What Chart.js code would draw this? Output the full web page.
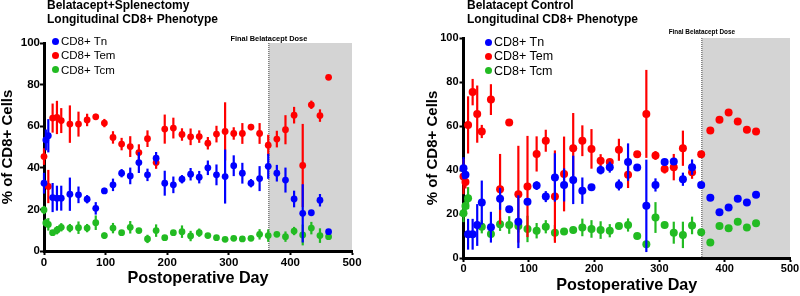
<!DOCTYPE html>
<html>
<head>
<meta charset="utf-8">
<script src="https://cdn.jsdelivr.net/npm/chart.js@4.4.1/dist/chart.umd.min.js"></script>
<style>
    body { margin: 0; background: #fff; }
    #wrap { position: relative; width: 800px; height: 296px; overflow: hidden; font-family: "Liberation Sans", Arial, sans-serif; }
    canvas { position: absolute; top: 0; }
    .title { position: absolute; font-weight: bold; font-size: 12px; line-height: 14px; white-space: nowrap; }
    .legend { position: absolute; white-space: nowrap; }
    .legend div { position: relative; }
    .legend span { position: absolute; border-radius: 50%; }
</style>
</head>
<body>
<div id="wrap">
    <canvas id="left-chart" width="400" height="296" style="left:0"></canvas>
    <canvas id="right-chart" width="400" height="296" style="left:400px"></canvas>
    <div class="title" style="left:47px; top:-2px">Belatacept+Splenectomy<br>Longitudinal CD8+ Phenotype</div>
    <div class="title" style="left:467px; top:-2px">Belatacept Control<br>Longitudinal CD8+ Phenotype</div>
    <div class="legend" id="left-legend" style="left:61px; top:34px; font-size:11.5px; line-height:14.3px"></div>
    <div class="legend" id="right-legend" style="left:494px; top:35px; font-size:12.5px; line-height:14.3px"></div>
</div>
<script>
// Series names and colours
const seriesNames = ['CD8+ Tn', 'CD8+ Tem', 'CD8+ Tcm'];
const seriesColors = ['#0000ff', '#ff0000', '#22bb22'];

// Belatacept+Splenectomy (left panel)
const splenDays = [0, 3, 7, 14, 21, 28, 42, 56, 70, 84, 98, 112, 126, 140, 154, 168, 182, 196, 210, 224,
    238, 252, 266, 280, 294, 308, 322, 336, 350, 364, 378, 392, 406, 420, 434, 448, 462];
const splenTn = [32.6, 53.4, 55.4, 25.7, 25.4, 25.4, 27.3, 27, 24.9, 20.5, 28.9, 31.8, 37.4, 36.1, 42.5, 36.6, 44.6, 32.6, 31.8, 34.5,
    36.9, 35.5, 40, 36.6, 35.8, 41, 37.4, 32.6, 34.8, 40.7, 37.4, 34.1, 25, 18.1, 18.4, 24.4, 9.3];
const splenTnErr = [5, 5, 8, 7, 6, 6, 8, 4, 2, 3, 1.5, 3, 2, 4, 5, 3, 3, 6, 4, 2,
    3, 3, 3.5, 5, 13, 5, 5, 2, 6, 6, 4, 6, 4, 14, 0, 3, 0];
const splenTem = [45.4, null, 31, 63.9, 64.2, 62.7, 61, 61, 63, 64.5, 61.5, 54.6, 51.4, 50.2, 47.3, 54, 42.5, 58.6, 59.1, 56,
    54.9, 55, 51.8, 56.2, 57.5, 56.5, 56.5, 59.6, 56.5, 50.9, 53.8, 58.3, 65.3, 41.1, 70.3, 65.1, 83.5];
const splenTemErr = [4, 0, 8, 7, 8, 6, 9, 6, 3, 1.5, 2, 3, 3, 5, 4, 4, 3, 7, 5, 3,
    4, 3, 3, 4, 14, 3, 5, 1.5, 5, 5, 4, 7, 4, 20, 2, 3, 0];
const splenTcm = [19.7, 13.5, 12.8, 8.8, 10, 11.4, 11, 11.2, 11, 13.6, 7.4, 11, 8.8, 11.4, 9.8, 5.8, 9.8, 6.4, 8.8, 9.3,
    7.2, 8.8, 7.4, 6.4, 5.6, 6.1, 5.8, 6.1, 8, 7.4, 8, 6.9, 9.6, 7.7, 11, 7.4, 6.9];
const splenTcmErr = [2, 2, 3, 1, 2, 2, 2, 3, 2, 3.5, 1.5, 2.5, 1, 3, 1, 2, 3, 1, 1, 3,
    2.5, 2, 1, 1, 0.5, 1, 1, 1, 2.5, 3, 1, 2.5, 2, 5, 3, 3.5, 1];

// Belatacept Control (right panel)
const ctrlDays = [0, 3, 7, 14, 21, 28, 42, 56, 70, 84, 98, 112, 126, 140, 154, 168, 182, 196, 210, 224,
    238, 252, 266, 280, 294, 308, 322, 336, 350, 364, 378, 392, 406, 420, 434, 448];
const ctrlTn = [40.8, 37.8, 10.8, 10.8, 15, 25.2, 14, 26.9, 22.2, 16.5, 25.6, 32.9, 27.9, 36.6, 33.2, 35.5, 30.6, 32.2, 40, 41.3,
    33.2, 43.6, 41.1, 23.7, 33.2, 43.6, 43.9, 35.8, 41.3, 33.2, 27.4, 20.8, 22.9, 26.9, 25.2, 28.7];
const ctrlTnErr = [5, 2, 7, 7, 9.5, 10, 7, 5, 0, 12, 1, 2, 2.5, 11, 7.5, 11, 6, 0, 2, 2.5,
    2.5, 8.5, 0, 21, 3, 0, 1.5, 3, 3.5, 0, 0, 0, 0, 0, 0, 0];
const ctrlTem = [37, 34.6, 60.5, 75.4, 65.4, 57.5, 72, 31.3, 61.6, 29, 32.5, 47.3, 53.3, 27.9, 38.2, 49.9, 53.3, 49.6, 44.2, 43.6,
    49.2, 37.8, 47.2, 65.5, 46.6, 40.4, 41.3, 49.9, 39, 47.2, 57.9, 62.8, 66.1, 62, 58.3, 57.5];
const ctrlTemErr = [8, 3, 13, 6, 13, 3, 7, 16, 1.5, 22, 23, 8, 5, 21, 17, 16, 7, 9, 3, 1,
    5, 6, 0, 20, 2, 2, 6, 8, 3, 0, 0, 0, 0, 0, 0, 0];
const ctrlTcm = [20.3, 23.6, 27.2, null, null, 14.2, 10.9, 15.3, 15, 14.6, 13.2, 12.4, 14.2, 11.5, 12, 12.7, 13.9, 13.2, 12.7, 12.4,
    14.6, 15, 10, 6.2, 18.4, 15, 11.5, 10.5, 14.8, 11.7, 7.1, 14.6, 13.5, 16.5, 13.9, 15.8];
const ctrlTcmErr = [4, 3, 5, 0, 0, 3, 0, 3, 4, 3, 6, 3.5, 3, 3.5, 0, 1.5, 4, 4, 4, 3,
    0, 3, 0, 0, 7, 0, 5, 6, 4, 0, 0, 0, 0, 0, 0, 0];

// Tick values and the dosing window
const xTicks = [0, 100, 200, 300, 400, 500];
const yTicks = [0, 20, 40, 60, 80, 100];
const finalDoseDay = 365;

const FONT = '"Liberation Sans", Arial, sans-serif';

function buildPoints(days, values, errors) {
    return days.map((d, i) => ({ x: d, y: values[i], err: errors[i] }));
}

function buildLegend(elementId, dotSize, dotLeft) {
    const legend = document.getElementById(elementId);
    seriesNames.forEach((name, idx) => {
        const row = document.createElement('div');
        const dot = document.createElement('span');
        dot.style.width = dotSize + 'px';
        dot.style.height = dotSize + 'px';
        dot.style.left = dotLeft + 'px';
        dot.style.top = 'calc(50% - ' + (dotSize / 2) + 'px)';
        dot.style.background = seriesColors[idx];
        row.appendChild(dot);
        row.appendChild(document.createTextNode(name));
        legend.appendChild(row);
    });
}

// Grey post-dose window, dotted marker and its label
const doseWindowPlugin = {
    id: 'doseWindow',
    beforeDraw(chart, args, opts) {
        const {ctx, scales: {x, y}} = chart;
        const x0 = x.getPixelForValue(finalDoseDay);
        const x1 = x.getPixelForValue(500);
        const yTop = y.getPixelForValue(100);
        const yBottom = y.getPixelForValue(0);
        ctx.save();
        ctx.fillStyle = '#d4d4d4';
        ctx.fillRect(x0, yTop, x1 - x0, yBottom - yTop);
        ctx.strokeStyle = '#444';
        ctx.lineWidth = 1;
        ctx.setLineDash([1, 1]);
        ctx.beginPath();
        ctx.moveTo(x0, yTop);
        ctx.lineTo(x0, yBottom);
        ctx.stroke();
        ctx.setLineDash([]);
        ctx.fillStyle = '#000';
        ctx.font = 'bold ' + opts.fontSize + 'px ' + FONT;
        ctx.textAlign = 'center';
        ctx.textBaseline = 'middle';
        ctx.fillText('Final Belatacept Dose', x0, yTop - opts.labelGap);
        ctx.restore();
    }
};

// Vertical error bars, drawn just under each dataset's own points
const errorBarPlugin = {
    id: 'errorBars',
    beforeDatasetDraw(chart, args) {
        const {ctx, scales: {x, y}} = chart;
        const dataset = chart.data.datasets[args.index];
        ctx.save();
        ctx.strokeStyle = dataset.backgroundColor;
        ctx.lineWidth = 2.2;
        dataset.data.forEach(p => {
            if (p.y === null || !p.err) return;
            const px = x.getPixelForValue(p.x);
            ctx.beginPath();
            ctx.moveTo(px, y.getPixelForValue(p.y - p.err));
            ctx.lineTo(px, y.getPixelForValue(p.y + p.err));
            ctx.stroke();
        });
        ctx.restore();
    }
};

function makeChart(canvasId, days, series, cfg) {
    const datasets = series.map((s, idx) => ({
        label: seriesNames[idx],
        data: buildPoints(days, s.values, s.errors),
        backgroundColor: seriesColors[idx],
        borderColor: seriesColors[idx],
        pointRadius: cfg.pointRadius,
        pointBorderWidth: 0,
        showLine: false,
        clip: false
    }));

    return new Chart(document.getElementById(canvasId), {
        type: 'scatter',
        data: { datasets },
        plugins: [doseWindowPlugin, errorBarPlugin],
        options: {
            responsive: false,
            animation: false,
            events: [],
            layout: { padding: { top: cfg.top, right: cfg.right, left: 0, bottom: 0 } },
            plugins: {
                legend: { display: false },
                tooltip: { enabled: false },
                doseWindow: { fontSize: cfg.doseFont, labelGap: cfg.doseGap }
            },
            scales: {
                x: {
                    type: 'linear',
                    min: 0,
                    max: 500,
                    afterBuildTicks: axis => { axis.ticks = xTicks.map(v => ({ value: v })); },
                    afterFit: axis => { axis.height = cfg.xAxisHeight; },
                    grid: { drawOnChartArea: false, drawTicks: true, tickLength: 4, tickWidth: 2, tickColor: '#000' },
                    border: { display: true, width: 3, color: '#000' },
                    ticks: { color: '#000', padding: cfg.xTickPad, maxRotation: 0, font: { family: FONT, size: cfg.tickFont, weight: 'bold' } },
                    title: {
                        display: true,
                        text: 'Postoperative Day',
                        color: '#000',
                        padding: { top: 0, bottom: cfg.xTitlePad },
                        font: { family: FONT, size: 16.2, weight: 'bold', lineHeight: 1.2 }
                    }
                },
                y: {
                    min: 0,
                    max: 100,
                    afterBuildTicks: axis => { axis.ticks = yTicks.map(v => ({ value: v })); },
                    afterFit: axis => { axis.width = cfg.yAxisWidth; },
                    grid: { drawOnChartArea: false, drawTicks: true, tickLength: 4, tickWidth: 2, tickColor: '#000' },
                    border: { display: true, width: 3, color: '#000' },
                    ticks: { color: '#000', padding: cfg.yTickPad, font: { family: FONT, size: cfg.tickFont, weight: 'bold' } },
                    title: {
                        display: true,
                        text: '% of CD8+ Cells',
                        color: '#000',
                        padding: { top: cfg.yTitlePad, bottom: 0 },
                        font: { family: FONT, size: 15, weight: 'bold', lineHeight: 1.2 }
                    }
                }
            }
        }
    });
}

makeChart('left-chart', splenDays, [
    { values: splenTn, errors: splenTnErr },
    { values: splenTem, errors: splenTemErr },
    { values: splenTcm, errors: splenTcmErr }
], {
    top: 43, right: 48, yAxisWidth: 44, xAxisHeight: 45,
    pointRadius: 3.4, tickFont: 11.5, xTickPad: 1, yTickPad: 0,
    xTitlePad: 8, yTitlePad: -1, doseFont: 7.4, doseGap: 4
});

makeChart('right-chart', ctrlDays, [
    { values: ctrlTn, errors: ctrlTnErr },
    { values: ctrlTem, errors: ctrlTemErr },
    { values: ctrlTcm, errors: ctrlTcmErr }
], {
    top: 38, right: 10, yAxisWidth: 63.5, xAxisHeight: 38,
    pointRadius: 4, tickFont: 11, xTickPad: 0, yTickPad: 1,
    xTitlePad: 1, yTitlePad: 23.5, doseFont: 6.4, doseGap: 6
});

buildLegend('left-legend', 7, -9);
buildLegend('right-legend', 7, -9.5);
</script>
</body>
</html>
